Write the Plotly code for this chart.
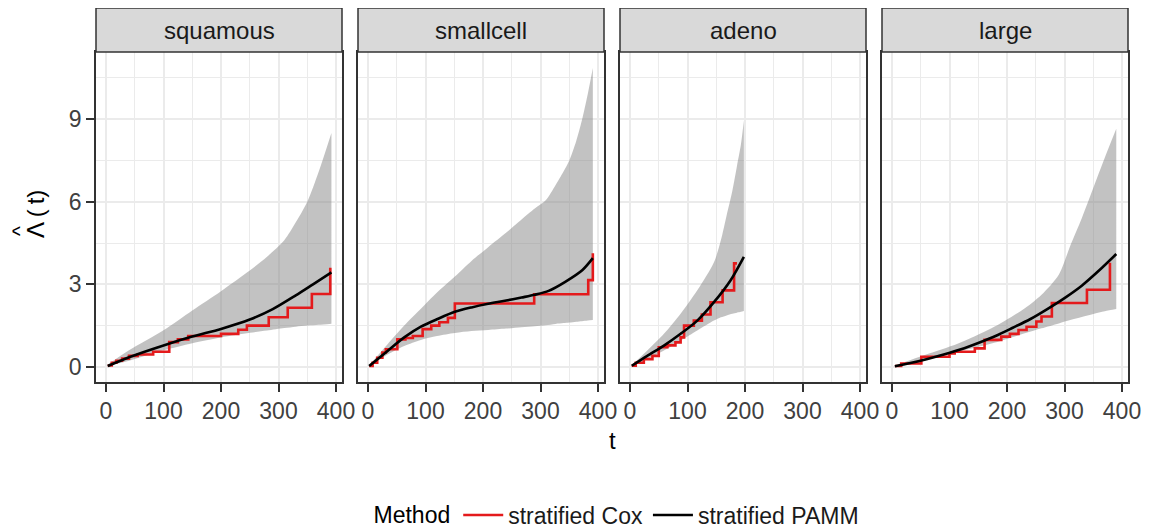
import plotly.graph_objects as go

strata = ["squamous", "smallcell", "adeno", "large"]
x_ticks = [0, 100, 200, 300, 400]
y_ticks = [0, 3, 6, 9]

# ---- squamous ----
sq_cox_t = [3, 10, 18, 28, 40, 55, 82, 110, 125, 143, 200, 230, 245, 283, 316, 358, 390]
sq_cox_v = [0.05, 0.15, 0.22, 0.3, 0.4, 0.45, 0.55, 0.9, 1.0, 1.12, 1.2, 1.35, 1.5, 1.8, 2.15, 2.65, 3.6]
sq_pamm_t = [3, 40, 100, 150, 200, 250, 290, 330, 360, 392]
sq_pamm_v = [0.03, 0.35, 0.78, 1.1, 1.38, 1.72, 2.1, 2.6, 3.0, 3.43]
sq_band_t = [3, 40, 100, 150, 200, 250, 280, 310, 330, 350, 370, 392]
sq_band_hi = [0.08, 0.6, 1.33, 2.05, 2.75, 3.5, 4.0, 4.6, 5.25, 6.0, 7.1, 8.5]
sq_band_lo = [0.03, 0.22, 0.6, 0.86, 1.07, 1.24, 1.32, 1.41, 1.46, 1.5, 1.53, 1.57]

# ---- smallcell ----
sc_cox_t = [2, 8, 16, 25, 31, 51, 65, 78, 95, 110, 124, 139, 151, 289, 383, 391]
sc_cox_v = [0.03, 0.15, 0.33, 0.52, 0.64, 1.0, 1.05, 1.12, 1.37, 1.5, 1.62, 1.78, 2.3, 2.64, 3.15, 4.13]
sc_pamm_t = [2, 34, 63, 92, 121, 151, 180, 209, 238, 267, 290, 314, 343, 373, 391]
sc_pamm_v = [0.03, 0.58, 1.07, 1.46, 1.74, 2.0, 2.16, 2.29, 2.4, 2.52, 2.62, 2.76, 3.09, 3.52, 3.95]
sc_band_t = [2, 34, 63, 92, 120, 151, 180, 209, 240, 267, 290, 309, 326, 340, 350, 362, 372, 382, 391]
sc_band_hi = [0.05, 0.82, 1.5, 2.11, 2.7, 3.28, 3.85, 4.35, 4.87, 5.35, 5.75, 6.05, 6.6, 7.1, 7.5, 8.2, 8.96, 9.9, 10.86]
sc_band_lo = [0.02, 0.45, 0.76, 0.98, 1.12, 1.23, 1.3, 1.34, 1.39, 1.44, 1.48, 1.51, 1.56, 1.59, 1.61, 1.64, 1.66, 1.68, 1.7]

# ---- adeno ----
ad_cox_t = [3, 10, 24, 39, 50, 65, 79, 88, 94, 111, 125, 140, 161, 181, 186]
ad_cox_v = [0.04, 0.15, 0.28, 0.4, 0.71, 0.78, 0.89, 1.07, 1.5, 1.68, 1.9, 2.35, 2.78, 3.76, 3.76]
ad_pamm_t = [3, 30, 59, 88, 117, 146, 175, 198]
ad_pamm_v = [0.04, 0.4, 0.77, 1.2, 1.68, 2.35, 3.15, 4.0]
ad_band_t = [3, 30, 59, 88, 117, 146, 158, 168, 178, 186, 193, 198]
ad_band_hi = [0.05, 0.59, 1.2, 1.93, 2.78, 3.8, 4.6, 5.5, 6.4, 7.3, 8.1, 8.95]
ad_band_lo = [0.03, 0.28, 0.59, 0.95, 1.32, 1.68, 1.8, 1.87, 1.93, 1.97, 2.0, 2.03]

# ---- large ----
lg_cox_t = [5, 16, 51, 100, 109, 144, 161, 190, 205, 220, 234, 251, 260, 278, 339, 379]
lg_cox_v = [0.03, 0.12, 0.37, 0.49, 0.55, 0.67, 0.98, 1.1, 1.2, 1.34, 1.46, 1.65, 1.83, 2.32, 2.8, 3.78]
lg_pamm_t = [5, 30, 60, 90, 120, 150, 180, 210, 240, 270, 300, 330, 360, 390]
lg_pamm_v = [0.02, 0.13, 0.28, 0.45, 0.64, 0.87, 1.12, 1.42, 1.73, 2.1, 2.5, 2.95, 3.5, 4.1]
lg_band_t = [5, 57, 115, 173, 231, 260, 290, 310, 330, 350, 370, 390]
lg_band_hi = [0.05, 0.43, 0.85, 1.4, 2.13, 2.62, 3.35, 4.4, 5.4, 6.5, 7.6, 8.65]
lg_band_lo = [0.02, 0.24, 0.55, 0.85, 1.22, 1.4, 1.58, 1.7, 1.81, 1.92, 2.02, 2.1]

series = [
    (sq_cox_t, sq_cox_v, sq_pamm_t, sq_pamm_v, sq_band_t, sq_band_lo, sq_band_hi),
    (sc_cox_t, sc_cox_v, sc_pamm_t, sc_pamm_v, sc_band_t, sc_band_lo, sc_band_hi),
    (ad_cox_t, ad_cox_v, ad_pamm_t, ad_pamm_v, ad_band_t, ad_band_lo, ad_band_hi),
    (lg_cox_t, lg_cox_v, lg_pamm_t, lg_pamm_v, lg_band_t, lg_band_lo, lg_band_hi),
]

# page has an 8px body margin; figure coordinates are page coordinates - 8
OFF = 8
W, H = 1151 - OFF, 530 - OFF
ML, MT = 96 - OFF, 52 - OFF
PW, PH = 1032, 330
MR = W - ML - PW
MB = H - MT - PH
panel_w, gap = 246, 16
strip_h = 44


def px(xpage):
    return (xpage - OFF - ML) / PW


def py(ypage):
    return (PH - (ypage - OFF - MT)) / PH


FONT = "Liberation Sans, Arial, Helvetica, sans-serif"
RED = "#E41A1C"
BLACK = "#000000"
GRID = "#EBEBEB"
BORDER = "#333333"
TICKTXT = "#404040"

fig = go.Figure()
shapes, annotations = [], []

for i, (ct, cv, pt, pv, bt, blo, bhi) in enumerate(series):
    xa = "x" if i == 0 else f"x{i+1}"
    ya = "y" if i == 0 else f"y{i+1}"
    # ribbon (lower edge, then upper edge filled down to it)
    fig.add_trace(go.Scatter(
        x=bt, y=blo, mode="lines", line=dict(width=0, shape="spline", smoothing=0.8),
        hoverinfo="skip", showlegend=False, xaxis=xa, yaxis=ya))
    fig.add_trace(go.Scatter(
        x=bt, y=bhi, mode="lines", line=dict(width=0, shape="spline", smoothing=0.8),
        fill="tonexty", fillcolor="rgba(127,127,127,0.48)",
        hoverinfo="skip", showlegend=False, xaxis=xa, yaxis=ya))
    fig.add_trace(go.Scatter(
        x=ct, y=cv, mode="lines", line=dict(color=RED, width=2.6, shape="hv"),
        name="stratified Cox", legendgroup="cox", showlegend=(i == 0),
        xaxis=xa, yaxis=ya))
    fig.add_trace(go.Scatter(
        x=pt, y=pv, mode="lines", line=dict(color=BLACK, width=2.6, shape="spline", smoothing=0.8),
        name="stratified PAMM", legendgroup="pamm", showlegend=(i == 0),
        xaxis=xa, yaxis=ya))

    x0 = i * (panel_w + gap) / PW
    x1 = (i * (panel_w + gap) + panel_w) / PW
    xax = dict(
        range=[-17.4, 410.4], tickvals=x_ticks, ticks="outside", ticklen=8,
        tickwidth=1.5, tickcolor=BORDER, showgrid=True, gridcolor=GRID, gridwidth=1.8,
        minor=dict(dtick=50, tick0=0, showgrid=True, gridcolor=GRID, gridwidth=1.3, ticks=""),
        showline=True, linecolor=BORDER, linewidth=1.5, mirror=True, zeroline=False,
        tickfont=dict(family=FONT, size=23, color=TICKTXT), domain=[x0, x1],
        anchor=ya, fixedrange=True)
    fig.layout[("xaxis" if i == 0 else f"xaxis{i+1}")] = xax
    yax = dict(
        range=[-0.55, 11.44], tickvals=y_ticks, showgrid=True, gridcolor=GRID, gridwidth=1.8,
        minor=dict(dtick=1.5, tick0=0, showgrid=True, gridcolor=GRID, gridwidth=1.3, ticks=""),
        showline=True, linecolor=BORDER, linewidth=1.5, mirror=True, zeroline=False,
        anchor=xa, domain=[0, 1], fixedrange=True)
    if i == 0:
        yax.update(ticks="outside", ticklen=8, tickwidth=1.5, tickcolor=BORDER,
                   tickfont=dict(family=FONT, size=23, color=TICKTXT))
    else:
        yax.update(matches="y", showticklabels=False, ticks="")
    fig.layout[("yaxis" if i == 0 else f"yaxis{i+1}")] = yax

    # facet strip
    shapes.append(dict(type="rect", xref="paper", yref="paper", x0=x0, x1=x1,
                       y0=1, y1=1 + strip_h / PH, fillcolor="#D9D9D9",
                       line=dict(color=BORDER, width=1.5), layer="above"))
    annotations.append(dict(text=strata[i], xref="paper", yref="paper",
                            x=(x0 + x1) / 2, y=1 + strip_h / 2 / PH, showarrow=False,
                            xanchor="center", yanchor="middle",
                            font=dict(family=FONT, size=24, color="#1A1A1A")))

# axis titles
annotations.append(dict(text="t", xref="paper", yref="paper", x=0.5, y=py(440),
                        showarrow=False, xanchor="center", yanchor="middle",
                        font=dict(family=FONT, size=24, color="#000000")))
annotations.append(dict(text="Λ\u2009(\u2009t)", xref="paper", yref="paper",
                        x=px(35), y=py(214), textangle=-90,
                        showarrow=False, xanchor="center", yanchor="middle",
                        font=dict(family=FONT, size=24, color="#000000")))
annotations.append(dict(text="^", xref="paper", yref="paper",
                        x=px(19), y=py(231), textangle=-90,
                        showarrow=False, xanchor="center", yanchor="middle",
                        font=dict(family=FONT, size=21, color="#000000")))

fig.update_layout(
    width=W, height=H, margin=dict(l=ML, r=MR, t=MT, b=MB, autoexpand=False),
    paper_bgcolor="white", plot_bgcolor="white",
    shapes=shapes, annotations=annotations,
    font=dict(family=FONT),
    legend=dict(orientation="h", x=px(618), xanchor="center",
                y=py(515), yanchor="middle",
                title=dict(text="Method", side="left", font=dict(family=FONT, size=23, color="#000000")),
                font=dict(family=FONT, size=23, color="#1A1A1A"),
                bgcolor="rgba(0,0,0,0)", itemwidth=40, tracegroupgap=0),
    showlegend=True,
)

fig.write_html("out.html")
